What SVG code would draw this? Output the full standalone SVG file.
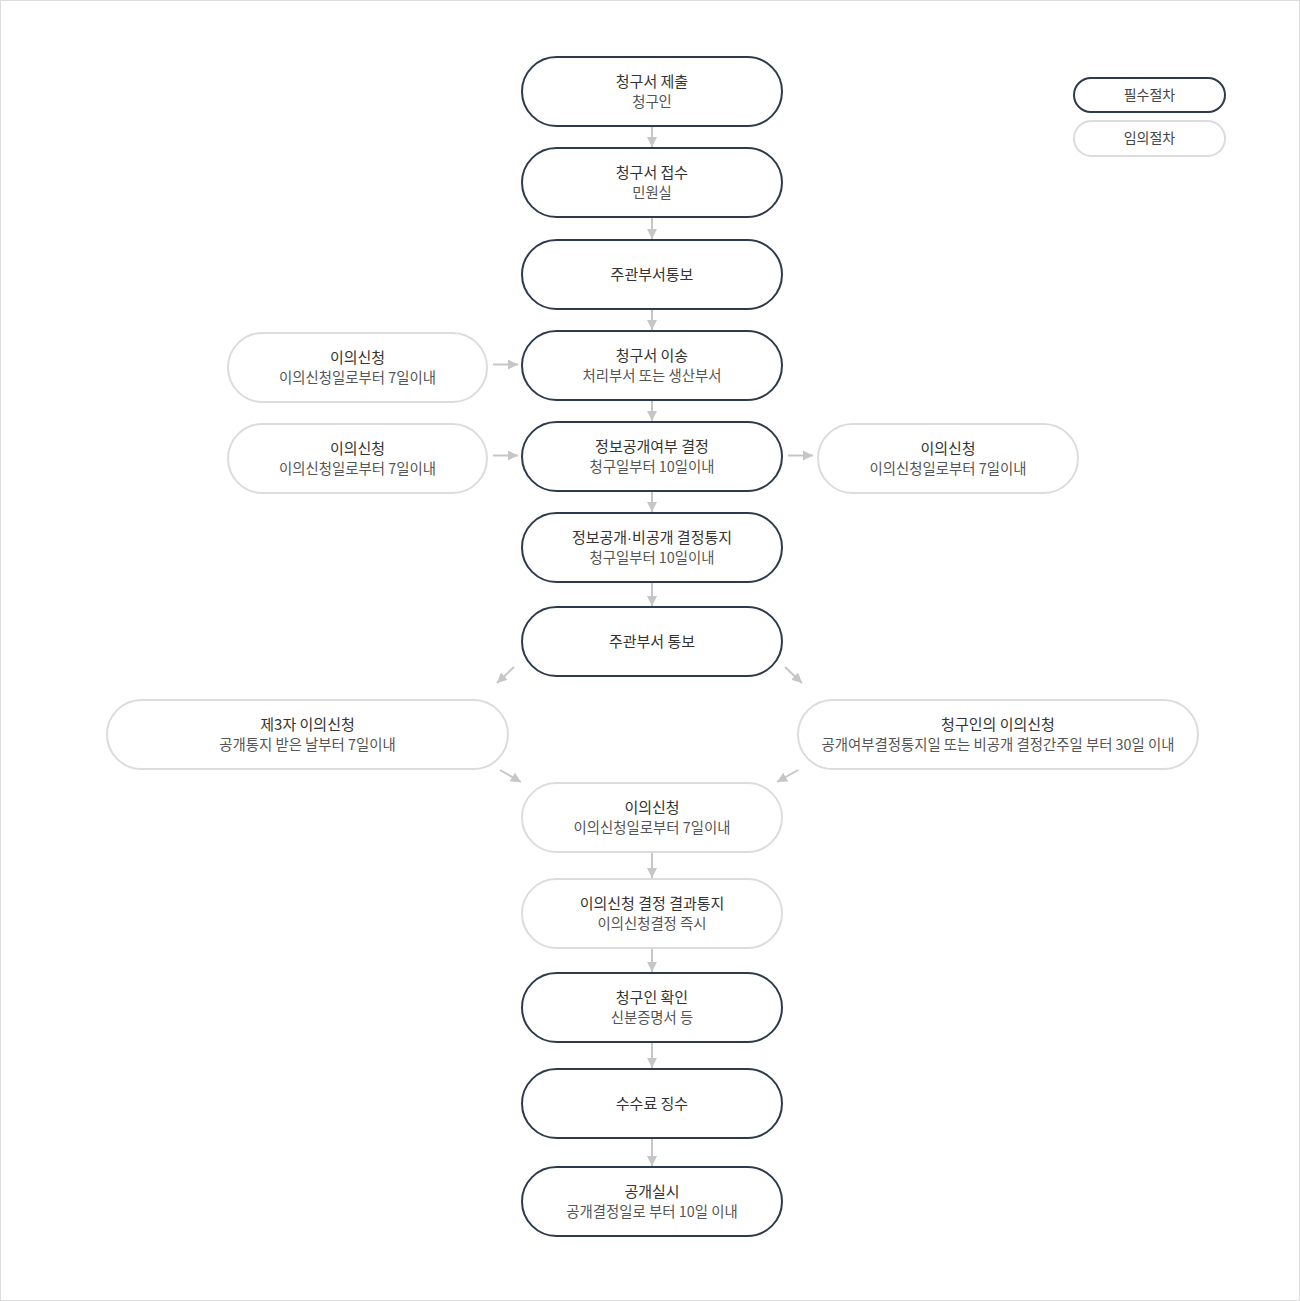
<svg xmlns="http://www.w3.org/2000/svg" width="1300" height="1301" viewBox="0 0 1300 1301">
  <style>
    .req { fill: #fff; stroke: #2e3a4d; stroke-width: 2; }
    .opt { fill: #fff; stroke: #dcdcdc; stroke-width: 2; }
    .t { font-family: "Noto Sans CJK KR", "Noto Sans", sans-serif; font-size: 15px; fill: #333; text-anchor: middle; }
    .s { font-family: "Noto Sans CJK KR", "Noto Sans", sans-serif; font-size: 14.4px; fill: #555; text-anchor: middle; }
    .lg { font-family: "Noto Sans CJK KR", "Noto Sans", sans-serif; font-size: 14px; fill: #444; text-anchor: middle; }
    .dot { font-family: "Liberation Sans", sans-serif; }
    .ln { stroke: #c6c6c6; stroke-width: 2; fill: none; }
  </style>
  <defs>
    <marker id="head" markerUnits="userSpaceOnUse" viewBox="0 0 10 10" refX="10" refY="5" markerWidth="10" markerHeight="10" orient="auto">
      <path d="M0,0 L10,5 L0,10 z" fill="#c6c6c6"/>
    </marker>
  </defs>

  <rect x="0.5" y="0.5" width="1299" height="1300" fill="#fff" stroke="#dddddd" stroke-width="1"/>

  <!-- legend -->
  <g id="legend">
    <rect class="req" x="1074" y="78" width="151" height="34" rx="17"/>
    <text class="lg" x="1149.5" y="100">필수절차</text>
    <rect class="opt" x="1074" y="121" width="151" height="35" rx="17.5"/>
    <text class="lg" x="1149.5" y="143">임의절차</text>
  </g>

  <!-- connectors -->
  <g id="connectors">
    <line class="ln" x1="652" y1="127" x2="652" y2="147" marker-end="url(#head)"/>
    <line class="ln" x1="652" y1="218" x2="652" y2="239" marker-end="url(#head)"/>
    <line class="ln" x1="652" y1="310" x2="652" y2="330" marker-end="url(#head)"/>
    <line class="ln" x1="652" y1="401" x2="652" y2="421" marker-end="url(#head)"/>
    <line class="ln" x1="652" y1="492" x2="652" y2="512" marker-end="url(#head)"/>
    <line class="ln" x1="652" y1="583" x2="652" y2="606" marker-end="url(#head)"/>
    <line class="ln" x1="652" y1="853" x2="652" y2="878" marker-end="url(#head)"/>
    <line class="ln" x1="652" y1="949" x2="652" y2="972" marker-end="url(#head)"/>
    <line class="ln" x1="652" y1="1043" x2="652" y2="1068" marker-end="url(#head)"/>
    <line class="ln" x1="652" y1="1139" x2="652" y2="1166" marker-end="url(#head)"/>
    <line class="ln" x1="493" y1="364.5" x2="518" y2="364.5" marker-end="url(#head)"/>
    <line class="ln" x1="493" y1="455.5" x2="518" y2="455.5" marker-end="url(#head)"/>
    <line class="ln" x1="788" y1="455.5" x2="813" y2="455.5" marker-end="url(#head)"/>
    <line class="ln" x1="514" y1="667" x2="497" y2="683" marker-end="url(#head)"/>
    <line class="ln" x1="785" y1="667" x2="802" y2="683" marker-end="url(#head)"/>
    <line class="ln" x1="500" y1="770" x2="521" y2="782" marker-end="url(#head)"/>
    <line class="ln" x1="798" y1="770" x2="777" y2="782" marker-end="url(#head)"/>
  </g>

  <!-- main flow -->
  <g id="n1">
    <rect class="req" x="522" y="57" width="260" height="69" rx="34.5"/>
    <text class="t" x="652" y="87">청구서 제출</text>
    <text class="s" x="652" y="107">청구인</text>
  </g>
  <g id="n2">
    <rect class="req" x="522" y="148" width="260" height="69" rx="34.5"/>
    <text class="t" x="652" y="178">청구서 접수</text>
    <text class="s" x="652" y="198">민원실</text>
  </g>
  <g id="n3">
    <rect class="req" x="522" y="240" width="260" height="69" rx="34.5"/>
    <text class="t" x="652" y="280">주관부서통보</text>
  </g>
  <g id="n4">
    <rect class="req" x="522" y="331" width="260" height="69" rx="34.5"/>
    <text class="t" x="652" y="361">청구서 이송</text>
    <text class="s" x="652" y="381">처리부서 또는 생산부서</text>
  </g>
  <g id="n5">
    <rect class="req" x="522" y="422" width="260" height="69" rx="34.5"/>
    <text class="t" x="652" y="452">정보공개여부 결정</text>
    <text class="s" x="652" y="472">청구일부터 10일이내</text>
  </g>
  <g id="n6">
    <rect class="req" x="522" y="513" width="260" height="69" rx="34.5"/>
    <text class="t" x="652" y="543">정보공개<tspan class="dot">·</tspan>비공개 결정통지</text>
    <text class="s" x="652" y="563">청구일부터 10일이내</text>
  </g>
  <g id="n7">
    <rect class="req" x="522" y="607" width="260" height="69" rx="34.5"/>
    <text class="t" x="652" y="647">주관부서 통보</text>
  </g>

  <!-- side objections -->
  <g id="obj-left-1">
    <rect class="opt" x="228" y="333" width="259" height="69" rx="34.5"/>
    <text class="t" x="357.5" y="363">이의신청</text>
    <text class="s" x="357.5" y="383">이의신청일로부터 7일이내</text>
  </g>
  <g id="obj-left-2">
    <rect class="opt" x="228" y="424" width="259" height="69" rx="34.5"/>
    <text class="t" x="357.5" y="454">이의신청</text>
    <text class="s" x="357.5" y="474">이의신청일로부터 7일이내</text>
  </g>
  <g id="obj-right">
    <rect class="opt" x="818" y="424" width="260" height="69" rx="34.5"/>
    <text class="t" x="948" y="454">이의신청</text>
    <text class="s" x="948" y="474">이의신청일로부터 7일이내</text>
  </g>
  <g id="third-party">
    <rect class="opt" x="107" y="700" width="401" height="69" rx="34.5"/>
    <text class="t" x="307.5" y="730">제3자 이의신청</text>
    <text class="s" x="307.5" y="750">공개통지 받은 날부터 7일이내</text>
  </g>
  <g id="requester">
    <rect class="opt" x="798" y="700" width="400" height="69" rx="34.5"/>
    <text class="t" x="998" y="730">청구인의 이의신청</text>
    <text class="s" x="998" y="750">공개여부결정통지일 또는 비공개 결정간주일 부터 30일 이내</text>
  </g>

  <!-- lower flow -->
  <g id="n8">
    <rect class="opt" x="522" y="783" width="260" height="69" rx="34.5"/>
    <text class="t" x="652" y="813">이의신청</text>
    <text class="s" x="652" y="833">이의신청일로부터 7일이내</text>
  </g>
  <g id="n9">
    <rect class="opt" x="522" y="879" width="260" height="69" rx="34.5"/>
    <text class="t" x="652" y="909">이의신청 결정 결과통지</text>
    <text class="s" x="652" y="929">이의신청결정 즉시</text>
  </g>
  <g id="n10">
    <rect class="req" x="522" y="973" width="260" height="69" rx="34.5"/>
    <text class="t" x="652" y="1003">청구인 확인</text>
    <text class="s" x="652" y="1023">신분증명서 등</text>
  </g>
  <g id="n11">
    <rect class="req" x="522" y="1069" width="260" height="69" rx="34.5"/>
    <text class="t" x="652" y="1109">수수료 징수</text>
  </g>
  <g id="n12">
    <rect class="req" x="522" y="1167" width="260" height="69" rx="34.5"/>
    <text class="t" x="652" y="1197">공개실시</text>
    <text class="s" x="652" y="1217">공개결정일로 부터 10일 이내</text>
  </g>
</svg>
